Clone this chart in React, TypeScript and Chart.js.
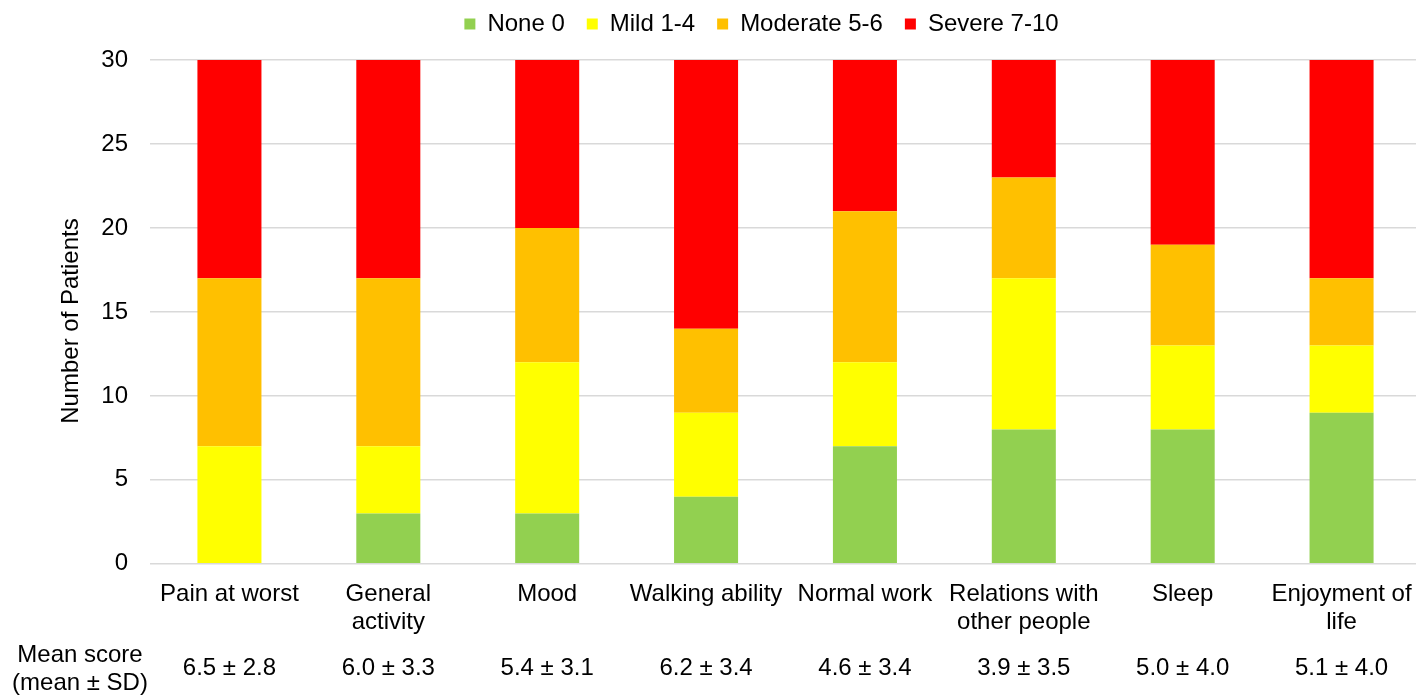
import React, { useEffect, useRef } from "react";
import { Chart, registerables } from "chart.js";

Chart.register(...registerables);

const categories: (string | string[])[] = [
  "Pain at worst",
  ["General", "activity"],
  "Mood",
  "Walking ability",
  "Normal work",
  ["Relations with", "other people"],
  "Sleep",
  ["Enjoyment of", "life"],
];

const noneValues = [0, 3, 3, 4, 7, 8, 8, 9];
const mildValues = [7, 4, 9, 5, 5, 9, 5, 4];
const moderateValues = [10, 10, 8, 5, 9, 6, 6, 4];
const severeValues = [13, 13, 10, 16, 9, 7, 11, 13];

const meanScores = [
  "6.5 ± 2.8",
  "6.0 ± 3.3",
  "5.4 ± 3.1",
  "6.2 ± 3.4",
  "4.6 ± 3.4",
  "3.9 ± 3.5",
  "5.0 ± 4.0",
  "5.1 ± 4.0",
];
const meanRowLabel = ["Mean score", "(mean ± SD)"];
const yAxisTitle = "Number of Patients";

const seriesNames = ["None 0", "Mild 1-4", "Moderate 5-6", "Severe 7-10"];
const seriesColors = ["#92D050", "#FFFF00", "#FFC000", "#FF0000"];

const FONT = "'Liberation Sans', Arial, sans-serif";
const CANVAS_W = 1421;
const CANVAS_H = 696;

export default function App() {
  const canvasRef = useRef<HTMLCanvasElement | null>(null);

  useEffect(() => {
    if (!canvasRef.current) return;
    const extrasPlugin = {
      id: "extras",
      afterInit(chart: any) {
        const legend = chart.legend;
        if (legend && !legend.__patched) {
          const origFit = legend.fit;
          legend.fit = function (this: any) {
            origFit.call(this);
            this.height += 14;
          };
          const origDraw = legend.draw;
          legend.draw = function (this: any, ...args: any[]) {
            const l = this.left;
            const r = this.right;
            this.left = l - 24;
            this.right = r - 24;
            origDraw.apply(this, args);
            this.left = l;
            this.right = r;
          };
          legend.__patched = true;
        }
      },
      afterDraw(chart: any) {
        const { ctx } = chart;
        const x = chart.scales.x;
        ctx.save();
        ctx.font = `24px ${FONT}`;
        ctx.fillStyle = "#000";
        ctx.textAlign = "center";
        ctx.textBaseline = "middle";
        meanScores.forEach((s, i) => {
          ctx.fillText(s, x.getPixelForValue(i), 668);
        });
        ctx.fillText(meanRowLabel[0], 80, 655);
        ctx.fillText(meanRowLabel[1], 80, 683);
        ctx.translate(71, 321);
        ctx.rotate(-Math.PI / 2);
        ctx.fillText(yAxisTitle, 0, 0);
        ctx.restore();
      },
    };

    const datasets = [noneValues, mildValues, moderateValues, severeValues].map(
      (vals, i) => ({
        label: seriesNames[i],
        data: vals,
        backgroundColor: seriesColors[i],
        borderWidth: 0,
        categoryPercentage: 1,
        barPercentage: 0.403,
      })
    );

    const chart = new Chart(canvasRef.current, {
      type: "bar",
      data: { labels: categories as any, datasets },
      options: {
        animation: false,
        responsive: false,
        maintainAspectRatio: false,
        layout: { padding: { top: -10, bottom: 44, left: 0, right: 0 } },
        plugins: {
          legend: {
            position: "top",
            fullSize: false,
            labels: {
              boxWidth: 11,
              boxHeight: 11,
              padding: 22,
              color: "#000",
              font: { family: FONT, size: 24 },
            },
          },
          tooltip: { enabled: false },
        },
        scales: {
          x: {
            stacked: true,
            grid: { display: false, drawTicks: false },
            border: { display: false },
            afterFit: (scale: any) => {
              scale.paddingLeft = 0;
              scale.paddingRight = 0;
            },
            ticks: {
              color: "#000",
              font: { family: FONT, size: 24, lineHeight: 1.17 },
              padding: 16,
              maxRotation: 0,
              autoSkip: false,
            },
          },
          y: {
            stacked: true,
            min: 0,
            max: 30,
            afterFit: (scale: any) => {
              scale.width = 150;
            },
            grid: { color: "#D9D9D9", lineWidth: 1.5, drawTicks: false },
            border: { display: false },
            ticks: {
              stepSize: 5,
              color: "#000",
              font: { family: FONT, size: 24 },
              padding: 22,
            },
          },
        },
      },
      plugins: [extrasPlugin],
    });
    return () => chart.destroy();
  }, []);

  return (
    <div
      style={{
        position: "fixed",
        left: 0,
        top: 0,
        width: 1416,
        height: 696,
        overflow: "hidden",
        background: "#fff",
      }}
    >
      <div style={{ width: CANVAS_W, height: CANVAS_H }}>
        <canvas
          ref={canvasRef}
          width={CANVAS_W}
          height={CANVAS_H}
          style={{ display: "block", width: CANVAS_W, height: CANVAS_H }}
        />
      </div>
    </div>
  );
}
